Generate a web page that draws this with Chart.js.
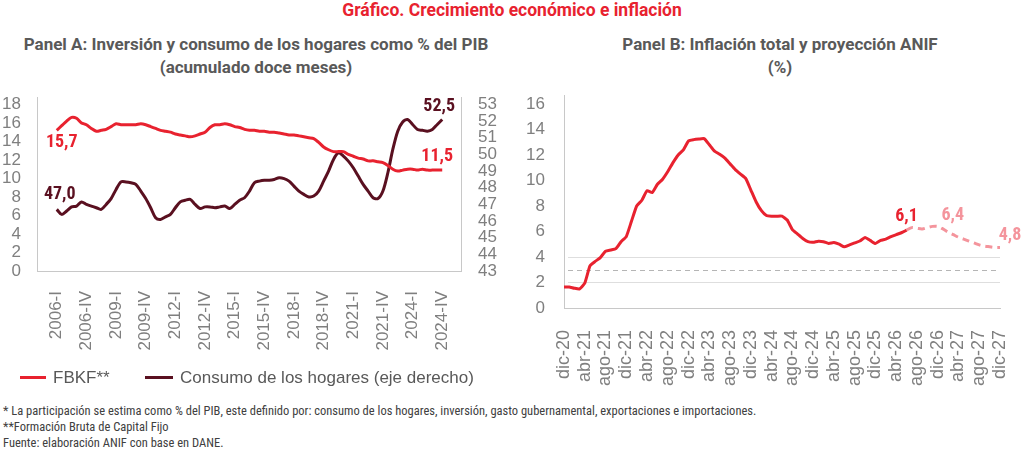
<!DOCTYPE html>
<html>
<head>
<meta charset="utf-8">
<script src="https://cdn.jsdelivr.net/npm/chart.js@4.4.1/dist/chart.umd.min.js"></script>
<style>
  body { margin:0; width:1024px; height:451px; background:#fff; position:relative; overflow:hidden;
         font-family:'Liberation Sans', Arial, sans-serif; }
  .t { position:absolute; white-space:nowrap; }
  .cond { font-family:'Liberation Sans Narrow', 'Roboto Condensed', Roboto, sans-serif; }
  .rob { font-family:Roboto, 'Liberation Sans', sans-serif; }
  #title { left:0; width:1024px; top:0; line-height:20px; text-align:center; color:#e8222f; font-weight:bold; font-size:17.5px; }
  .ptitle { top:33px; line-height:23px; text-align:center; color:#595959; font-weight:bold; font-size:17px; }
  .leg { top:368px; line-height:20px; font-size:17px; color:#595959; }
  .sw { display:inline-block; vertical-align:middle; height:3px; margin-right:7px; position:relative; top:-1px; }
  .note { left:3px; top:403px; line-height:16px; font-size:12.5px; color:#404040; }
  canvas { position:absolute; }
</style>
</head>
<body>
<div id="title" class="t rob">Gráfico. Crecimiento económico e inflación</div>
<div class="t rob ptitle" style="left:0;width:512px">Panel A: Inversión y consumo de los hogares como % del PIB<br>(acumulado doce meses)</div>
<div class="t rob ptitle" style="left:524px;width:512px">Panel B: Inflación total y proyección ANIF<br>(%)</div>

<canvas id="chartA" width="512" height="300" style="left:0;top:90px"></canvas>
<canvas id="chartB" width="512" height="300" style="left:512px;top:90px"></canvas>

<div class="t leg" style="left:20px"><span class="sw" style="width:26px;background:#e8222f"></span>FBKF**</div>
<div class="t leg" style="left:145px"><span class="sw" style="width:28px;background:#5a1020"></span>Consumo de los hogares (eje derecho)</div>

<div class="t cond note">* La participación se estima como % del PIB, este definido por: consumo de los hogares, inversión, gasto gubernamental, exportaciones e importaciones.<br>**Formación Bruta de Capital Fijo<br>Fuente: elaboración ANIF con base en DANE.</div>

<script>
// ---- Panel A: % del PIB, trimestral 2006-I a 2024-IV
const trimestresEje = ['2006-I','2006-IV','2009-I','2009-IV','2012-I','2012-IV','2015-I','2015-IV',
                       '2018-I','2018-IV','2021-I','2021-IV','2024-I','2024-IV'];
const pasoEje = 6;
const ticksIzqA = [0, 2, 4, 6, 8, 10, 12, 14, 16, 18];
const ticksDerA = [43, 44, 45, 46, 47, 48, 49, 50, 51, 52, 53];

const fbkf = [15.2,15.7,16.2,16.6,16.5,16.0,15.8,15.4,15.1,15.2,
              15.3,15.6,15.9,15.8,15.8,15.8,15.8,15.9,15.8,15.6,
              15.4,15.2,15.1,15.0,14.8,14.7,14.6,14.5,14.6,14.8,
              15.0,15.5,15.8,15.8,15.9,15.8,15.6,15.5,15.3,15.2,
              15.2,15.1,15.1,15.0,15.0,14.9,14.8,14.7,14.7,14.6,
              14.5,14.4,14.3,13.9,13.4,13.1,12.9,12.9,12.9,12.6,
              12.4,12.2,12.1,11.9,11.9,11.8,11.7,11.4,11.0,10.8,
              10.9,11.0,11.0,10.9,11.0,10.9,10.9,10.9,10.9];

const consumo = [46.7,46.4,46.6,46.85,46.9,47.15,47.0,46.9,46.8,46.7,
                 47.0,47.35,47.9,48.35,48.35,48.3,48.2,47.8,47.35,46.8,
                 46.2,46.1,46.25,46.4,46.8,47.15,47.25,47.3,47.0,46.75,
                 46.85,46.85,46.8,46.85,46.9,46.75,47.0,47.25,47.4,47.8,
                 48.3,48.4,48.45,48.45,48.5,48.6,48.55,48.4,48.1,47.8,
                 47.6,47.45,47.5,47.8,48.4,49.0,49.7,50.1,49.9,49.6,
                 49.2,48.7,48.2,47.8,47.4,47.35,47.8,48.9,50.3,51.4,
                 51.95,52.1,51.8,51.5,51.45,51.4,51.5,51.8,52.1];

const etiquetasA = [
  {ds:0, idx:0,  text:'15,7', dx:5,  dy:12},
  {ds:0, idx:78, text:'11,5', dx:-5, dy:-14},
  {ds:1, idx:0,  text:'47,0', dx:3,  dy:-15},
  {ds:1, idx:78, text:'52,5', dx:-3, dy:-13}
];

// ---- Panel B: inflación total anual, mensual dic-20 a dic-27
const nombresMes = ['ene','feb','mar','abr','may','jun','jul','ago','sep','oct','nov','dic'];
const meses = [];
for (let i = 0; i < 85; i++) {
  const m = 11 + i;
  meses.push(nombresMes[m % 12] + '-' + (20 + Math.floor(m / 12)));
}
const ticksB = [0, 2, 4, 6, 8, 10, 12, 14, 16];

const inflacion = [1.65,1.65,1.55,1.5,1.95,3.3,3.65,3.95,4.45,4.55,
                   4.65,5.2,5.6,6.8,8.0,8.45,9.2,9.05,9.7,10.1,
                   10.7,11.4,12.0,12.4,13.1,13.2,13.25,13.28,12.8,12.3,
                   12.05,11.75,11.3,10.85,10.5,10.16,9.25,8.33,7.65,7.25,
                   7.2,7.2,7.2,6.9,6.15,5.8,5.45,5.2,5.15,5.24,
                   5.2,5.06,5.13,5.0,4.8,4.95,5.1,5.25,5.53,5.3,
                   5.06,5.3,5.4,5.6,5.75,5.9,6.1];
const inicioProyeccion = 66;
const proyeccion = [6.1,6.3,6.25,6.2,6.3,6.4,6.4,6.2,5.95,5.75,
                    5.55,5.4,5.25,5.1,4.95,4.85,4.8,4.75,4.75];
const rangoMeta = [2, 3, 4];

const etiquetasB = [
  {ds:0, idx:66, text:'6,1', dx:0,  dy:-14},
  {ds:1, idx:6,  text:'6,4', dx:15, dy:-11},
  {ds:1, idx:18, text:'4,8', dx:10, dy:-12}
];

// ---- estilos
const ROJO = '#e8222f', VINOTINTO = '#5a1020', ROSADO = '#f4949c';
const EJE = '#c8c8c8', TXT = '#7f7f7f';
const FUENTE = "'Liberation Sans', Arial, sans-serif";
const FUENTE_COND = "'Liberation Sans Narrow', 'Roboto Condensed', Roboto, sans-serif";

const etiquetasPlugin = {
  id: 'etiquetas',
  afterDatasetsDraw(chart, args, opts) {
    const ctx = chart.ctx;
    ctx.save();
    ctx.font = 'bold 18px ' + FUENTE_COND;
    ctx.textAlign = 'center';
    ctx.textBaseline = 'middle';
    (opts.items || []).forEach(e => {
      const p = chart.getDatasetMeta(e.ds).data[e.idx];
      if (!p) return;
      ctx.fillStyle = chart.data.datasets[e.ds].borderColor;
      ctx.fillText(e.text, p.x + e.dx, p.y + e.dy);
    });
    ctx.restore();
  }
};

const metaPlugin = {
  id: 'rangoMeta',
  beforeDatasetsDraw(chart, args, opts) {
    if (!opts.values) return;
    const {ctx, chartArea: a, scales: {y}} = chart;
    ctx.save();
    opts.values.forEach((v, k) => {
      const py = Math.round(y.getPixelForValue(v)) + 0.5;
      ctx.beginPath();
      ctx.lineWidth = 1;
      ctx.strokeStyle = k === 1 ? '#b5b5b5' : '#dedede';
      ctx.setLineDash(k === 1 ? [5, 4] : []);
      ctx.moveTo(a.left + 4, py);
      ctx.lineTo(a.right, py);
      ctx.stroke();
    });
    ctx.restore();
  }
};

Chart.register(etiquetasPlugin, metaPlugin);

const fijarTicks = valores => s => { s.ticks = valores.map(v => ({value: v})); };
const anchoEje = w => s => { s.width = w; s.paddingTop = 0; s.paddingBottom = 0; };

new Chart(document.getElementById('chartA'), {
  type: 'line',
  data: {
    datasets: [{
      label: 'FBKF**',
      data: fbkf.map((v, i) => ({x: i, y: v})),
      borderColor: ROJO, borderWidth: 3, pointRadius: 0, tension: 0.3, yAxisID: 'y'
    }, {
      label: 'Consumo de los hogares (eje derecho)',
      data: consumo.map((v, i) => ({x: i, y: v})),
      borderColor: VINOTINTO, borderWidth: 3, pointRadius: 0, tension: 0.3, yAxisID: 'y2'
    }]
  },
  options: {
    responsive: false, animation: false,
    layout: {padding: {top: 7, left: 0, right: 0, bottom: 0}},
    plugins: {
      legend: {display: false}, tooltip: {enabled: false},
      etiquetas: {items: etiquetasA}
    },
    scales: {
      x: {
        type: 'linear', min: -4, max: 81.8,
        grid: {display: false}, border: {color: EJE},
        afterBuildTicks: s => { s.ticks = trimestresEje.map((l, k) => ({value: k * pasoEje})); },
        afterFit: s => { s.height = 119; s.paddingLeft = 0; s.paddingRight = 0; },
        ticks: {
          callback: v => trimestresEje[v / pasoEje],
          autoSkip: false, maxRotation: 90, minRotation: 90,
          color: TXT, font: {family: FUENTE, size: 17}, padding: 12
        }
      },
      y: {
        position: 'left', min: 0, max: 18.8,
        grid: {display: false}, border: {color: EJE},
        afterBuildTicks: fijarTicks(ticksIzqA),
        afterFit: anchoEje(37),
        ticks: {autoSkip: false, color: TXT, font: {family: FUENTE, size: 17}, padding: 8}
      },
      y2: {
        position: 'right', min: 43, max: 53.45,
        grid: {display: false}, border: {color: EJE},
        afterBuildTicks: fijarTicks(ticksDerA),
        afterFit: anchoEje(51),
        ticks: {autoSkip: false, color: TXT, font: {family: FUENTE, size: 17}, padding: 9}
      }
    }
  }
});

new Chart(document.getElementById('chartB'), {
  type: 'line',
  data: {
    labels: meses,
    datasets: [{
      label: 'Inflación total',
      data: inflacion,
      borderColor: ROJO, borderWidth: 3, pointRadius: 0, tension: 0.15
    }, {
      label: 'Proyección ANIF',
      data: proyeccion.map((v, k) => ({x: meses[inicioProyeccion + k], y: v})),
      borderColor: ROSADO, borderWidth: 3, borderDash: [7, 5], pointRadius: 0, tension: 0.3
    }]
  },
  options: {
    responsive: false, animation: false,
    layout: {padding: {top: 5, left: 0, right: 24, bottom: 0}},
    plugins: {
      legend: {display: false}, tooltip: {enabled: false},
      etiquetas: {items: etiquetasB},
      rangoMeta: {values: rangoMeta}
    },
    scales: {
      x: {
        offset: false,
        grid: {display: false}, border: {color: EJE},
        afterBuildTicks: s => { s.ticks = s.ticks.filter(t => t.value % 4 === 0); },
        afterFit: s => { s.height = 82; s.paddingLeft = 0; s.paddingRight = 0; },
        ticks: {
          autoSkip: false, maxRotation: 90, minRotation: 90,
          color: TXT, font: {family: FUENTE, size: 18}, padding: 14
        }
      },
      y: {
        min: 0, max: 16.7,
        grid: {display: false}, border: {color: EJE},
        afterBuildTicks: fijarTicks(ticksB),
        afterFit: anchoEje(52),
        ticks: {autoSkip: false, color: TXT, font: {family: FUENTE, size: 17}, padding: 11}
      }
    }
  }
});
</script>
</body>
</html>
